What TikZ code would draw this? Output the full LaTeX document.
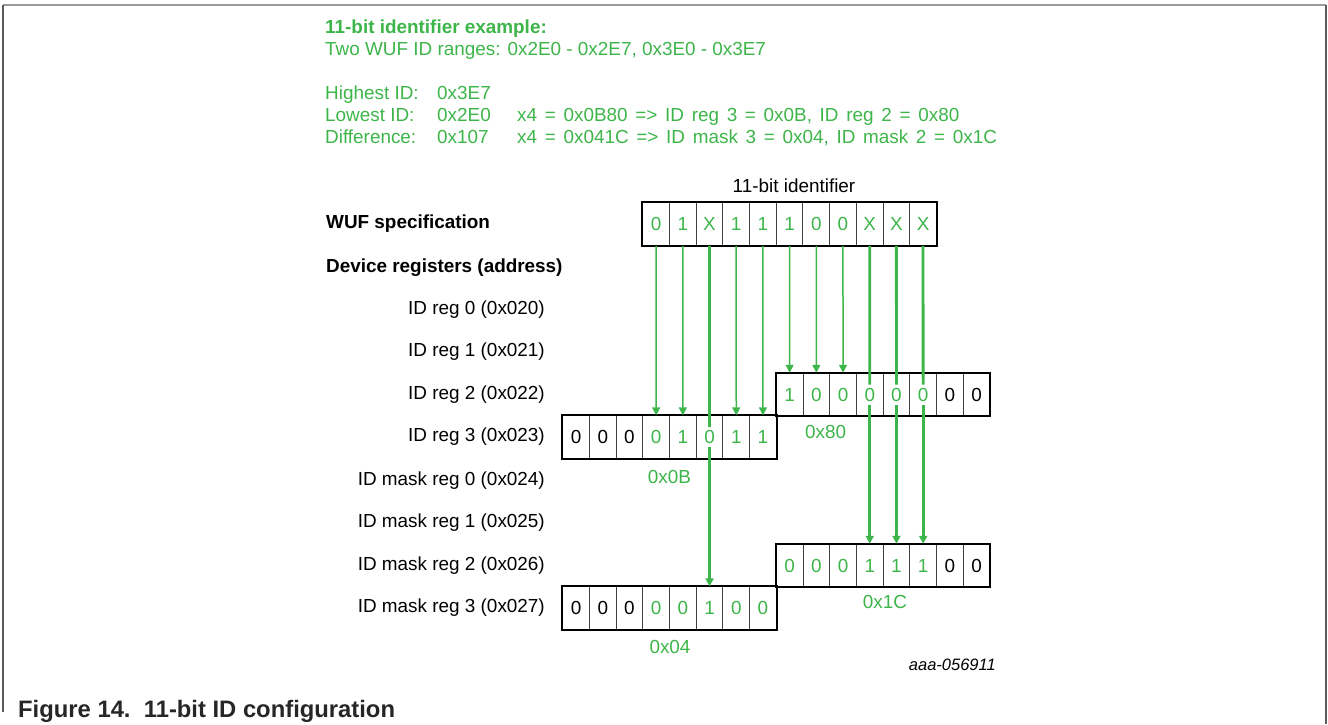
\documentclass[tikz,border=0pt]{standalone}
\usepackage{fontspec}
\setmainfont{Liberation Sans}
\usepackage{tikz}
\usetikzlibrary{arrows.meta, positioning}
\definecolor{wufgreen}{RGB}{61,181,74}
\definecolor{framegray}{RGB}{90,90,90}
\newcommand{\regfont}{\fontsize{18.9}{22}\selectfont}

\begin{document}
\begin{tikzpicture}[
    x=1pt, y=-1pt,
    bitcell/.style={draw=black!75, line width=0.9pt, minimum width=26.7pt, minimum height=42.6pt, inner sep=0pt, font=\regfont},
    regframe/.style={draw=black, line width=2pt},
    reglabel/.style={anchor=east, font=\regfont, inner sep=0pt},
    note/.style={anchor=base west, font=\regfont, text=wufgreen, inner sep=0pt},
    widenote/.style={note, execute at begin node={\spaceskip=7.7pt\relax}},
    bitline/.style={wufgreen, line width=1.5pt, -{Triangle[length=8pt,width=8pt]}},
    xline/.style={wufgreen, line width=2.8pt}
]
    \useasboundingbox (0,0) rectangle (1328,724);
    % Frame
    \draw[black!40, line width=1.5pt] (3,5) -- (1326,5);
    \draw[framegray, line width=1.5pt] (3,712) -- (3,5);
    \draw[framegray, line width=1.5pt] (1326,5) -- (1326,724);

    % Example text
    \node[note, font=\regfont\bfseries] (extitle) at (325,33) {11-bit identifier example:};
    \node[note] (ranges) at (325,55) {Two WUF ID ranges: 0x2E0 - 0x2E7, 0x3E0 - 0x3E7};
    \node[note] (high) at (325,99) {Highest ID:};
    \node[note] (low) at (325,121) {Lowest ID:};
    \node[note] (diff) at (325,143) {Difference:};
    \node[note] (highval) at (437,99) {0x3E7};
    \node[note] (lowval) at (437,121) {0x2E0};
    \node[note] (diffval) at (437,143) {0x107};
    \node[widenote] (regcalc) at (517,121) {x4 = 0x0B80 => ID reg 3 = 0x0B, ID reg 2 = 0x80};
    \node[widenote] (maskcalc) at (517,143) {x4 = 0x041C => ID mask 3 = 0x04, ID mask 2 = 0x1C};

    % Row labels
    \node[anchor=west, font=\regfont\bfseries, inner sep=0pt] (wufspec) at (326,224) {WUF specification};
    \node[anchor=west, font=\regfont\bfseries, inner sep=0pt] (devregs) at (326,268) {Device registers (address)};
    \node[reglabel] (lreg0) at (545,310) {ID reg 0 (0x020)};
    \node[reglabel] (lreg1) at (545,352) {ID reg 1 (0x021)};
    \node[reglabel] (lreg2) at (545,395) {ID reg 2 (0x022)};
    \node[reglabel] (lreg3) at (545,437) {ID reg 3 (0x023)};
    \node[reglabel] (lmask0) at (545,481) {ID mask reg 0 (0x024)};
    \node[reglabel] (lmask1) at (545,523) {ID mask reg 1 (0x025)};
    \node[reglabel] (lmask2) at (545,566) {ID mask reg 2 (0x026)};
    \node[reglabel] (lmask3) at (545,608) {ID mask reg 3 (0x027)};

    % WUF bits
    \node[font=\regfont] (idtitle) at (794,186) {11-bit identifier};
    \foreach \v [count=\i from 0] in {0,1,X,1,1,1,0,0,X,X,X}
        \node[bitcell, text=wufgreen] (w\i) at (656.05+26.7*\i,224) {\v};
    \draw[regframe] (w0.north west) rectangle (w10.south east);

    % Registers
    \foreach \v/\c [count=\i from 0] in {1/wufgreen,0/wufgreen,0/wufgreen,0/wufgreen,0/wufgreen,0/wufgreen,0/black,0/black}
        \node[bitcell, text=\c] (r2c\i) at (789.65+26.7*\i,394.5) {\v};
    \foreach \v/\c [count=\i from 0] in {0/black,0/black,0/black,0/wufgreen,1/wufgreen,0/wufgreen,1/wufgreen,1/wufgreen}
        \node[bitcell, text=\c] (r3c\i) at (576.05+26.7*\i,437.1) {\v};
    \foreach \v/\c [count=\i from 0] in {0/wufgreen,0/wufgreen,0/wufgreen,1/wufgreen,1/wufgreen,1/wufgreen,0/black,0/black}
        \node[bitcell, text=\c] (m2c\i) at (789.65+26.7*\i,565.5) {\v};
    \foreach \v/\c [count=\i from 0] in {0/black,0/black,0/black,0/wufgreen,0/wufgreen,1/wufgreen,0/wufgreen,0/wufgreen}
        \node[bitcell, text=\c] (m3c\i) at (576.05+26.7*\i,608.1) {\v};
    \draw[regframe] (r2c0.north west) rectangle (r2c7.south east);
    \draw[regframe] (r3c0.north west) rectangle (r3c7.south east);
    \draw[regframe] (m2c0.north west) rectangle (m2c7.south east);
    \draw[regframe] (m3c0.north west) rectangle (m3c7.south east);

    % Register values
    \node[font=\regfont, text=wufgreen] (hexreg3) at (669.5,477) {0x0B};
    \node[font=\regfont, text=wufgreen] (hexreg2) at (825.7,432) {0x80};
    \node[font=\regfont, text=wufgreen] (hexmask2) at (885,602) {0x1C};
    \node[font=\regfont, text=wufgreen] (hexmask3) at (670,647) {0x04};

    % Connections
    \draw[bitline] (w0.south) -- (r3c3.north);
    \draw[bitline] (w1.south) -- (r3c4.north);
    \draw[bitline] (w3.south) -- (r3c6.north);
    \draw[bitline] (w4.south) -- (r3c7.north);
    \draw[bitline] (w5.south) -- (r2c0.north);
    \draw[bitline] (w6.south) -- (r2c1.north);
    \draw[bitline] (w7.south) -- (r2c2.north);

    \draw[xline, shorten >=10pt] (w2.south) -- (r3c5.center);
    \draw[xline, shorten <=10pt, -{Triangle[length=8pt,width=8pt]}] (r3c5.center) -- (m3c5.north);
    \draw[xline, shorten >=10pt] (w8.south) -- (r2c3.center);
    \draw[xline, shorten <=10pt, -{Triangle[length=8pt,width=8pt]}] (r2c3.center) -- (m2c3.north);
    \draw[xline, shorten >=10pt] (w9.south) -- (r2c4.center);
    \draw[xline, shorten <=10pt, -{Triangle[length=8pt,width=8pt]}] (r2c4.center) -- (m2c4.north);
    \draw[xline, shorten >=10pt] (w10.south) -- (r2c5.center);
    \draw[xline, shorten <=10pt, -{Triangle[length=8pt,width=8pt]}] (r2c5.center) -- (m2c5.north);

    % Caption
    \node[anchor=east, font=\fontsize{16.5}{20}\selectfont\itshape, inner sep=0pt] (figid) at (996,665) {aaa-056911};
    \node[anchor=west, font=\fontsize{23.8}{27}\selectfont\bfseries, text=black!85, inner sep=0pt] (caption) at (18,711) {Figure 14.\ \ 11-bit ID configuration};
\end{tikzpicture}
\end{document}
